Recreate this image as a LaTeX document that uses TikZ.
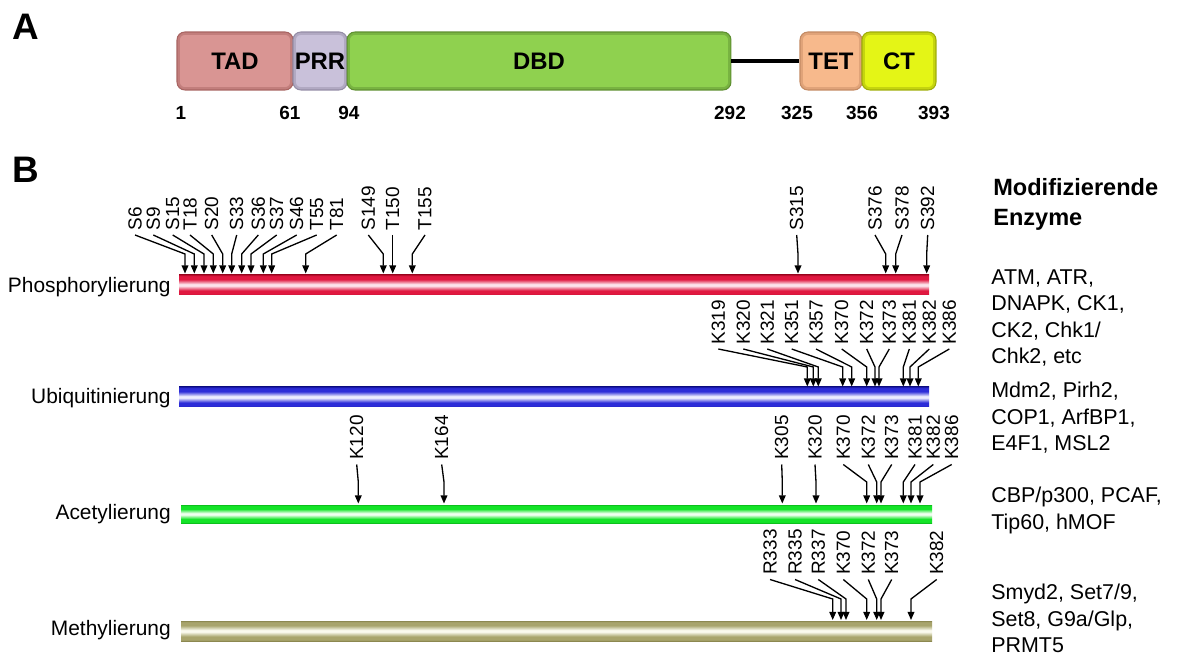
\documentclass[tikz,border=0pt]{standalone}
\usepackage{fontspec}
\setmainfont{Liberation Sans}
\usetikzlibrary{arrows.meta}

% domain colours (fill / edge)
\definecolor{tadC}{HTML}{D99593}\definecolor{tadD}{HTML}{A86462}
\definecolor{prrC}{HTML}{C9C1DA}\definecolor{prrD}{HTML}{948DA6}
\definecolor{dbdC}{HTML}{8FD14F}\definecolor{dbdD}{HTML}{5E9030}
\definecolor{tetC}{HTML}{F7B98C}\definecolor{tetD}{HTML}{C48A62}
\definecolor{ctC}{HTML}{E4F516}\definecolor{ctD}{HTML}{A0AE08}

% modification bars (band colour / edge / centre)
\definecolor{phC}{HTML}{E01840}\definecolor{phD}{HTML}{B80C2C}\definecolor{phW}{HTML}{FCE4EC}
\definecolor{ubC}{HTML}{2C2CD8}\definecolor{ubD}{HTML}{1A1AA8}\definecolor{ubW}{HTML}{ECECFF}
\definecolor{acC}{HTML}{14E428}\definecolor{acD}{HTML}{0CC01C}\definecolor{acW}{HTML}{F0FFF0}
\definecolor{meC}{HTML}{A8A46C}\definecolor{meD}{HTML}{8C8850}\definecolor{meW}{HTML}{FAFAEE}

\newcommand\barshading[1]{%
  \pgfdeclareverticalshading{#1shade}{100bp}{%
    color(0bp)=(#1D); color(25bp)=(#1D); color(28bp)=(#1C); color(36bp)=(#1C);
    color(48bp)=(#1W); color(52bp)=(#1W); color(64bp)=(#1C); color(72bp)=(#1C);
    color(75bp)=(#1D); color(100bp)=(#1D)}}
\barshading{ph}\barshading{ub}\barshading{ac}\barshading{me}

% #1 name prefix, #2 label foot y, #3 bend y, #4 tip y, #5 site/label x/tip x list
\newcommand\drawsites[5]{%
  \foreach \n/\lx/\tx in {#5} {
    \node[site] (#1\n) at (\lx,#2) {\n};
    \coordinate (#1\n k) at (\tx,#3);
    \coordinate (#1\n t) at (\tx,#4);
    \draw[sitearrow] (#1\n.west) -- (#1\n k) -- (#1\n t);
  }}

\begin{document}
\begin{tikzpicture}[x=0.02cm, y=-0.02cm,
  site/.style={rotate=90, anchor=west, inner xsep=2.5pt, inner ysep=0pt,
    font=\fontsize{10.8}{12}\selectfont},
  sitearrow/.style={line width=0.75pt, -{Triangle[length=4.6pt,width=3.8pt]}},
  dom/.style={rounded corners=4.5pt, draw=#1, line width=0.6pt, inner sep=0pt,
    minimum height=1.16cm, font=\bfseries\fontsize{13.6}{16}\selectfont,
    path picture={\draw[line width=3.2pt, draw=#1, opacity=0.45]
      (path picture bounding box.south west) rectangle
      (path picture bounding box.north east);}},
  resnum/.style={font=\bfseries\fontsize{10.8}{12}\selectfont, inner sep=0pt},
  panel/.style={font=\bfseries\fontsize{21}{24}\selectfont, inner sep=0pt},
  modlab/.style={anchor=base east, inner sep=0pt, font=\fontsize{11.9}{14}\selectfont},
  enz/.style={anchor=north west, align=left, inner sep=0pt,
    font=\fontsize{12.2}{15.1}\selectfont}]

\fill[white] (0,0) rectangle (1181,655);
\useasboundingbox (0,0) rectangle (1181,655);

% ---------- A: domain map ----------
\node[panel] (pA) at (26,27) {A};
\node[dom=tadD, fill=tadC, minimum width=2.32cm] (tad) at (235,61) {TAD};
\node[dom=prrD, fill=prrC, minimum width=1.08cm] (prr) at (320,61) {PRR};
\node[dom=dbdD, fill=dbdC, minimum width=7.68cm] (dbd) at (539,61) {DBD};
\node[dom=tetD, fill=tetC, minimum width=1.24cm] (tet) at (831,61) {TET};
\node[dom=ctD, fill=ctC, minimum width=1.48cm] (ct) at (899,61) {CT};
\draw[line width=2.2pt] (dbd.east) -- (tet.west);

\node[resnum] (n1) at (181,113) {1};
\node[resnum] (n61) at (290,113) {61};
\node[resnum] (n94) at (349,113) {94};
\node[resnum] (n292) at (730,113) {292};
\node[resnum] (n325) at (797,113) {325};
\node[resnum] (n356) at (862,113) {356};
\node[resnum] (n393) at (934,113) {393};

% ---------- B: modification sites ----------
\node[panel] (pB) at (26,170) {B};

\node[anchor=north west, align=left, inner sep=0pt,
  font=\bfseries\fontsize{13.4}{17}\selectfont] (head) at (993,178) {Modifizierende\\Enzyme};

% bars
\shade[shading=phshade] (179,275) rectangle (929,295);
\shade[shading=ubshade] (179,387) rectangle (929,407);
\shade[shading=acshade] (181,505) rectangle (932,523);
\shade[shading=meshade] (181,621) rectangle (932,641);

\node[modlab] (lph) at (171,292.4) {Phosphorylierung};
\node[modlab] (lub) at (171,403.3) {Ubiquitinierung};
\node[modlab] (lac) at (171,519.3) {Acetylierung};
\node[modlab] (lme) at (171,635) {Methylierung};

\node[enz] (eph) at (991,269) {ATM, ATR,\\DNAPK, CK1,\\CK2, Chk1/\\Chk2, etc};
\node[enz] (eub) at (991,382) {Mdm2, Pirh2,\\COP1, ArfBP1,\\E4F1, MSL2};
\node[enz] (eac) at (991,487) {CBP/p300, PCAF,\\Tip60, hMOF};
\node[enz] (eme) at (991,584) {Smyd2, Set7/9,\\Set8, G9a/Glp,\\PRMT5};

% site labels and arrows
\drawsites{ph}{235}{254}{273.5}{S6/135/185, S9/153.3/194.3, S15/172.7/204,
  T18/190/213.3, S20/211.7/222.7, S33/236.7/231.7, S36/258.3/241.7,
  S37/276.7/251, S46/296.7/263.3, T55/316.7/271.7, T81/336.7/305.7,
  S149/368.3/383.3, T150/392.7/392.7, T155/425/412.3, S315/796.7/798,
  S376/875/885.7, S378/902/895.7, S392/927.7/926.7}

\drawsites{ub}{349}{367}{386.5}{K319/718.3/807.3, K320/743.3/813.3,
  K321/767.3/818.3, K351/791.7/842.7, K357/816/851.7, K370/841.7/866.7,
  K372/866.7/875, K373/889.3/879, K381/909.3/903.3, K382/929.3/910,
  K386/949.3/918.3}

\drawsites{ac}{464.5}{482}{503.5}{K120/356.7/358.3, K164/441.7/444,
  K305/781.7/782.3, K320/815/816, K370/843.3/866.7, K372/868.3/876.7,
  K373/891.7/881, K381/915/903.3, K382/933.3/911, K386/951.7/920}

\drawsites{me}{579.5}{599}{620}{R333/770/832.7, R335/795/841, R337/818.3/846,
  K370/843.3/866.7, K372/868.3/876.7, K373/891.7/881, K382/936.7/911}

\end{tikzpicture}
\end{document}
